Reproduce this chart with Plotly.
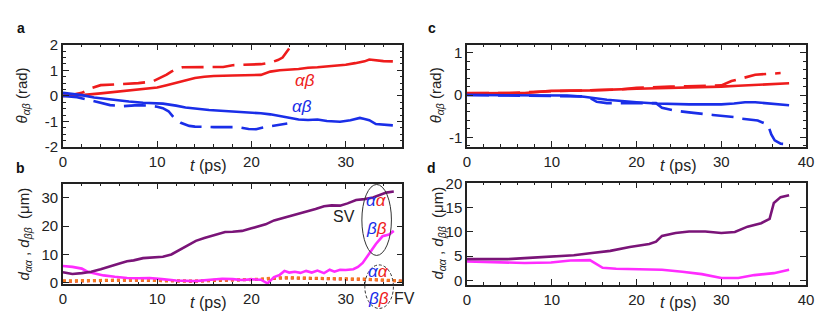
import plotly.graph_objects as go

# ---------------- data ----------------
# panel a : theta_ab (rad) vs t (ps)
a_red_solid_t = [0, 2, 4, 6, 8, 10, 11, 12, 13, 14, 15, 16, 18, 20, 21, 22, 23, 25, 26, 27, 28, 29, 30, 31, 32, 32.5, 33, 34, 35]
a_red_solid_v = [0, 0.03, 0.1, 0.17, 0.25, 0.33, 0.42, 0.52, 0.62, 0.7, 0.75, 0.78, 0.8, 0.8, 0.82, 0.95, 1.0, 1.05, 1.1, 1.12, 1.15, 1.17, 1.22, 1.28, 1.35, 1.42, 1.4, 1.36, 1.35]
a_red_dash_t = [0, 1, 2, 3, 4, 6, 8, 9.5, 10.5, 11, 11.5, 12, 12.7, 14, 16, 17, 18, 20, 21, 22, 22.8, 23.3, 23.7, 24]
a_red_dash_v = [0, 0.04, 0.12, 0.3, 0.42, 0.45, 0.5, 0.56, 0.72, 0.83, 0.95, 1.05, 1.12, 1.12, 1.12, 1.13, 1.2, 1.22, 1.24, 1.3, 1.4, 1.5, 1.68, 1.85]
a_blue_solid_t = [0, 1, 2, 3.3, 5, 6, 7, 8.5, 10, 10.6, 12, 13, 15.5, 17, 19, 21, 22, 23.1, 24, 25, 26, 27, 28, 29.4, 30.5, 31.5, 32, 32.5, 33.2, 34, 35]
a_blue_solid_v = [0.12, 0.08, 0.03, -0.06, -0.14, -0.18, -0.22, -0.27, -0.29, -0.3, -0.38, -0.45, -0.55, -0.58, -0.62, -0.68, -0.72, -0.8, -0.86, -0.92, -0.94, -0.92, -0.98, -1.01, -0.95, -0.86, -0.9, -0.95, -1.1, -1.13, -1.15]
a_blue_dash_t = [0, 1.5, 3, 4, 5, 6.4, 7.1, 8, 9, 10, 10.6, 11.2, 11.8, 12.5, 13.4, 14, 16, 18.6, 19.7, 20.5, 21, 22, 23, 23.8]
a_blue_dash_v = [0, -0.05, -0.18, -0.28, -0.36, -0.4, -0.37, -0.36, -0.38, -0.42, -0.48, -0.6, -0.86, -1.05, -1.17, -1.2, -1.22, -1.22, -1.29, -1.3, -1.25, -1.18, -1.12, -1.08]

# panel b : d_aa, d_bb (um) vs t (ps)
b_t_sv = [0, 1, 2, 3, 4, 5, 6, 6.8, 7.5, 8.5, 9.5, 10.6, 11.5, 12.5, 14.1, 15, 16.2, 17.2, 18, 19, 20, 20.7, 21.5, 22.4, 23.3, 24.2, 25, 25.9, 26.8, 27.7, 28.5, 29.4, 30.2, 31.1, 32, 32.9, 33.6, 34.3, 35.1]
b_sv_purple = [3.7, 3.1, 3.4, 3.9, 4.8, 5.9, 6.8, 7.6, 7.9, 8.7, 9.0, 9.2, 10.0, 11.8, 14.8, 15.8, 17.0, 17.9, 18.0, 18.3, 19.2, 19.8, 20.6, 22.0, 22.8, 23.7, 24.4, 25.3, 26.0, 27.0, 27.3, 27.2, 28.0, 29.2, 29.5, 30.1, 30.9, 31.8, 32.2]
b_t_mag = [0, 1, 2, 2.6, 3.5, 4.3, 5.5, 6.8, 8, 9.2, 10.5, 12, 14, 15.5, 16.9, 18, 19, 20, 21, 21.7, 22.4, 23, 23.5, 24, 24.6, 25.2, 25.8, 26.4, 27, 27.7, 28.3, 28.8, 29.4, 30, 30.8, 31.3, 31.8, 32.5, 33.2, 33.9, 34.6, 35.1]
b_mag = [5.9, 5.6, 5.0, 3.9, 3.2, 2.6, 2.1, 1.7, 1.6, 1.7, 1.3, 0.8, 0.6, 0.9, 1.4, 1.3, 1.0, 1.2, 1.1, -0.2, 2.0, 2.8, 4.2, 3.6, 3.9, 3.5, 4.2, 3.6, 4.3, 3.4, 4.6, 3.9, 4.6, 4.5, 4.8, 5.6, 7.0, 10.3, 13.7, 16.4, 17.0, 18.3]
b_t_fv = [0, 2, 4, 6, 8, 10, 12, 14, 16, 18, 20, 21, 22, 23, 24, 25, 26, 28, 30, 32, 34, 35, 36]
b_fv_red = [0.5, 0.7, 0.8, 0.9, 0.9, 0.7, 0.6, 0.55, 0.8, 0.9, 1.0, 1.2, 1.4, 1.7, 1.7, 1.6, 1.5, 1.4, 1.3, 1.2, 1.0, 0.8, 0.6]
b_fv_orange = [0.7, 0.8, 0.9, 1.0, 1.0, 0.8, 0.7, 0.6, 0.9, 1.0, 1.1, 1.3, 1.6, 1.8, 1.8, 1.7, 1.6, 1.5, 1.4, 1.3, 1.1, 0.8, 0.5]

# panel c : theta_ab (rad) vs t (ps)
c_red_solid_t = [0, 3, 6.8, 9.9, 14.5, 20, 23, 26, 30, 32, 34, 36, 38]
c_red_solid_v = [0.04, 0.04, 0.05, 0.1, 0.11, 0.15, 0.16, 0.17, 0.2, 0.22, 0.24, 0.26, 0.28]
c_red_dash_t = [0, 5, 10, 14.5, 18, 20, 22, 24, 26, 28, 30, 31.2, 32, 32.7, 34, 35.5, 37]
c_red_dash_v = [0.05, 0.05, 0.09, 0.11, 0.13, 0.17, 0.19, 0.2, 0.21, 0.22, 0.23, 0.33, 0.38, 0.41, 0.48, 0.5, 0.52]
c_blue_solid_t = [0, 5, 11.8, 13.8, 16.5, 20, 22.3, 26.2, 30, 31.5, 32.8, 34, 35.9, 38]
c_blue_solid_v = [0, 0, -0.01, -0.04, -0.11, -0.17, -0.2, -0.22, -0.22, -0.2, -0.17, -0.17, -0.21, -0.24]
c_blue_dash_t = [0, 5, 10, 13.5, 14.5, 15.3, 16.5, 17.6, 20, 22.3, 23, 24.6, 26.2, 27.3, 29, 31.6, 32.4, 34.3, 35.5, 35.9, 36.3, 37, 38]
c_blue_dash_v = [0, -0.01, -0.02, -0.03, -0.07, -0.16, -0.19, -0.19, -0.19, -0.19, -0.3, -0.37, -0.41, -0.44, -0.47, -0.52, -0.56, -0.6, -0.7, -0.93, -1.07, -1.15, -1.16]

# panel d : d_aa, d_bb (um) vs t (ps)
d_t_purple = [0, 4.8, 6.8, 9.9, 12.6, 14.5, 16.9, 19.2, 21.5, 22.3, 23, 24.6, 26.2, 28.1, 30, 31.6, 33.1, 34.7, 35.7, 36.2, 37, 38]
d_purple = [4.4, 4.4, 4.6, 4.9, 5.2, 5.6, 6.1, 6.9, 7.5, 8.0, 9.2, 9.8, 10.1, 10.1, 9.8, 10.0, 11.1, 11.8, 12.7, 16.0, 17.2, 17.6]
d_t_mag = [0, 6.8, 9.9, 12.2, 14.5, 15.3, 16, 17.6, 20.3, 23, 25.4, 27.7, 30, 32, 33.9, 36.2, 38]
d_mag = [3.9, 3.6, 3.7, 4.1, 4.2, 3.3, 2.6, 2.4, 2.3, 2.2, 1.8, 1.3, 0.5, 0.5, 1.1, 1.5, 2.2]

ab_ticks = [0, 10, 20, 30]
cd_ticks = [0, 10, 20, 30, 40]

# ---------------- style ----------------
RED = "#ee1c1c"
BLUE = "#1a2ee8"
PURPLE = "#7a1478"
MAGENTA = "#ff2cff"
ORANGE = "#f47a20"
W, H = 830, 316
FONT = "Liberation Sans, Arial, sans-serif"
LW = 2.6


def px(x):
    return x / W


def py(y):
    return 1 - y / H


fig = go.Figure()


def line(x, y, color, xa, ya, dash="solid", width=LW):
    fig.add_trace(go.Scatter(x=x, y=y, mode="lines", xaxis=xa, yaxis=ya,
                             line=dict(color=color, width=width, dash=dash),
                             showlegend=False, hoverinfo="skip"))


LDASH = "22px,9px"
# a
line(a_red_dash_t, a_red_dash_v, RED, "x", "y", LDASH)
line(a_red_solid_t, a_red_solid_v, RED, "x", "y")
line(a_blue_dash_t, a_blue_dash_v, BLUE, "x", "y", LDASH)
line(a_blue_solid_t, a_blue_solid_v, BLUE, "x", "y")
# b
line(b_t_fv, b_fv_red, "#e0201a", "x2", "y2", "dot", 3)
line(b_t_fv, b_fv_orange, ORANGE, "x2", "y2", "dot", 3)
line(b_t_mag, b_mag, MAGENTA, "x2", "y2")
line(b_t_sv, b_sv_purple, PURPLE, "x2", "y2")
# c
line(c_red_dash_t, c_red_dash_v, RED, "x3", "y3", LDASH)
line(c_red_solid_t, c_red_solid_v, RED, "x3", "y3")
line(c_blue_dash_t, c_blue_dash_v, BLUE, "x3", "y3", LDASH)
line(c_blue_solid_t, c_blue_solid_v, BLUE, "x3", "y3")
# d
line(d_t_mag, d_mag, MAGENTA, "x4", "y4")
line(d_t_purple, d_purple, PURPLE, "x4", "y4")

tickfont = dict(family=FONT, size=15, color="#222")


def xax(dom, rng, ticks, anchor):
    return dict(domain=dom, range=rng, tickvals=ticks, ticktext=[str(v) for v in ticks],
                showline=True, linecolor="#222", linewidth=1.5, mirror="ticks",
                ticks="inside", ticklen=6, tickwidth=1, tickcolor="#222",
                minor=dict(dtick=2, ticks="inside", ticklen=3, tickcolor="#222", tickwidth=1),
                showgrid=False, zeroline=False, tickfont=tickfont, anchor=anchor,
                fixedrange=True)


def yax(dom, rng, ticks, minor_dt, anchor):
    d = dict(domain=dom, range=rng, tickvals=ticks, ticktext=[str(v) for v in ticks],
             showline=True, linecolor="#222", linewidth=1.5, mirror="ticks",
             ticks="inside", ticklen=6, tickwidth=1, tickcolor="#222",
             showgrid=False, zeroline=False, tickfont=tickfont, anchor=anchor,
             fixedrange=True)
    if minor_dt:
        d["minor"] = dict(dtick=minor_dt, ticks="inside", ticklen=3, tickcolor="#222", tickwidth=1)
    return d


xab = [px(51.7), px(396)]
xcd = [px(461.7), px(805.7)]
yac = [py(137.5), py(29.3)]
ybd = [py(282.7), py(176)]

fig.update_layout(
    width=W, height=H, margin=dict(l=0, r=0, t=0, b=0),
    paper_bgcolor="white", plot_bgcolor="white",
    xaxis=xax(xab, [0, 36], ab_ticks, "y"),
    yaxis=yax(yac, [-2, 2], [-2, -1, 0, 1, 2], 0.25, "x"),
    xaxis2=xax(xab, [0, 36], ab_ticks, "y2"),
    yaxis2=yax(ybd, [-0.6, 35], [0, 10, 20, 30], None, "x2"),
    xaxis3=xax(xcd, [0, 40], cd_ticks, "y3"),
    yaxis3=yax(yac, [-1.23, 1.19], [-1, 0, 1], 0.2, "x3"),
    xaxis4=xax(xcd, [0, 40], cd_ticks, "y4"),
    yaxis4=yax([py(283), py(175)], [-0.9, 20.2], [0, 5, 10, 15, 20], None, "x4"),
)

ann = []


def text(x, y, s, size=15, color="#222", angle=0, bold=False):
    ann.append(dict(x=px(x), y=py(y), xref="paper", yref="paper", text=("<b>%s</b>" % s) if bold else s,
                    showarrow=False, textangle=angle, xanchor="center", yanchor="middle",
                    font=dict(family=FONT, size=size, color=color)))


# panel letters
text(9, 12, "a", 14, "#111", bold=True)
text(9, 160, "b", 14, "#111", bold=True)
text(426, 12, "c", 14, "#111", bold=True)
text(426, 160, "d", 14, "#111", bold=True)

# axis titles
tt = "<i>t</i> (ps)"
text(199, 157, tt, 16)
text(199, 302, tt, 16)
text(676, 157, tt, 16)
text(676, 302, tt, 16)
yt1 = "<i>θ</i><sub><i>αβ</i></sub> (rad)"
yt2 = "<i>d</i><sub><i>αα</i></sub> , <i>d</i><sub><i>ββ</i></sub>  (μm)"
text(11, 83, yt1, 15, angle=-90)
text(431, 83, yt1, 15, angle=-90)
text(13, 229, yt2, 15, angle=-90)
text(433, 228, yt2, 15, angle=-90)

# labels in panel a
text(297, 67, "<i>αβ</i>", 17, RED)
text(294, 95, "<i>αβ</i>", 17, BLUE)

# labels in panel b
text(337, 211, "SV", 16)
text(398, 298, "FV", 16)
pair_a = "<i><span style='color:%s'>α</span><span style='color:%s'>α</span></i>" % (BLUE, RED)
pair_b = "<i><span style='color:%s'>β</span><span style='color:%s'>β</span></i>" % (BLUE, RED)
text(370, 194, pair_a, 17)
text(370, 224, pair_b, 17)
text(372, 269, pair_a, 17)
text(372, 297, pair_b, 17)

fig.update_layout(annotations=ann)

fig.add_shape(type="circle", xref="paper", yref="paper",
              x0=px(355), x1=px(385), y0=py(252), y1=py(177),
              line=dict(color="#333", width=1))
fig.add_shape(type="circle", xref="paper", yref="paper",
              x0=px(358), x1=px(387), y0=py(308), y1=py(262),
              line=dict(color="#333", width=1, dash="3px,2px"))

fig.write_html("out.html")
